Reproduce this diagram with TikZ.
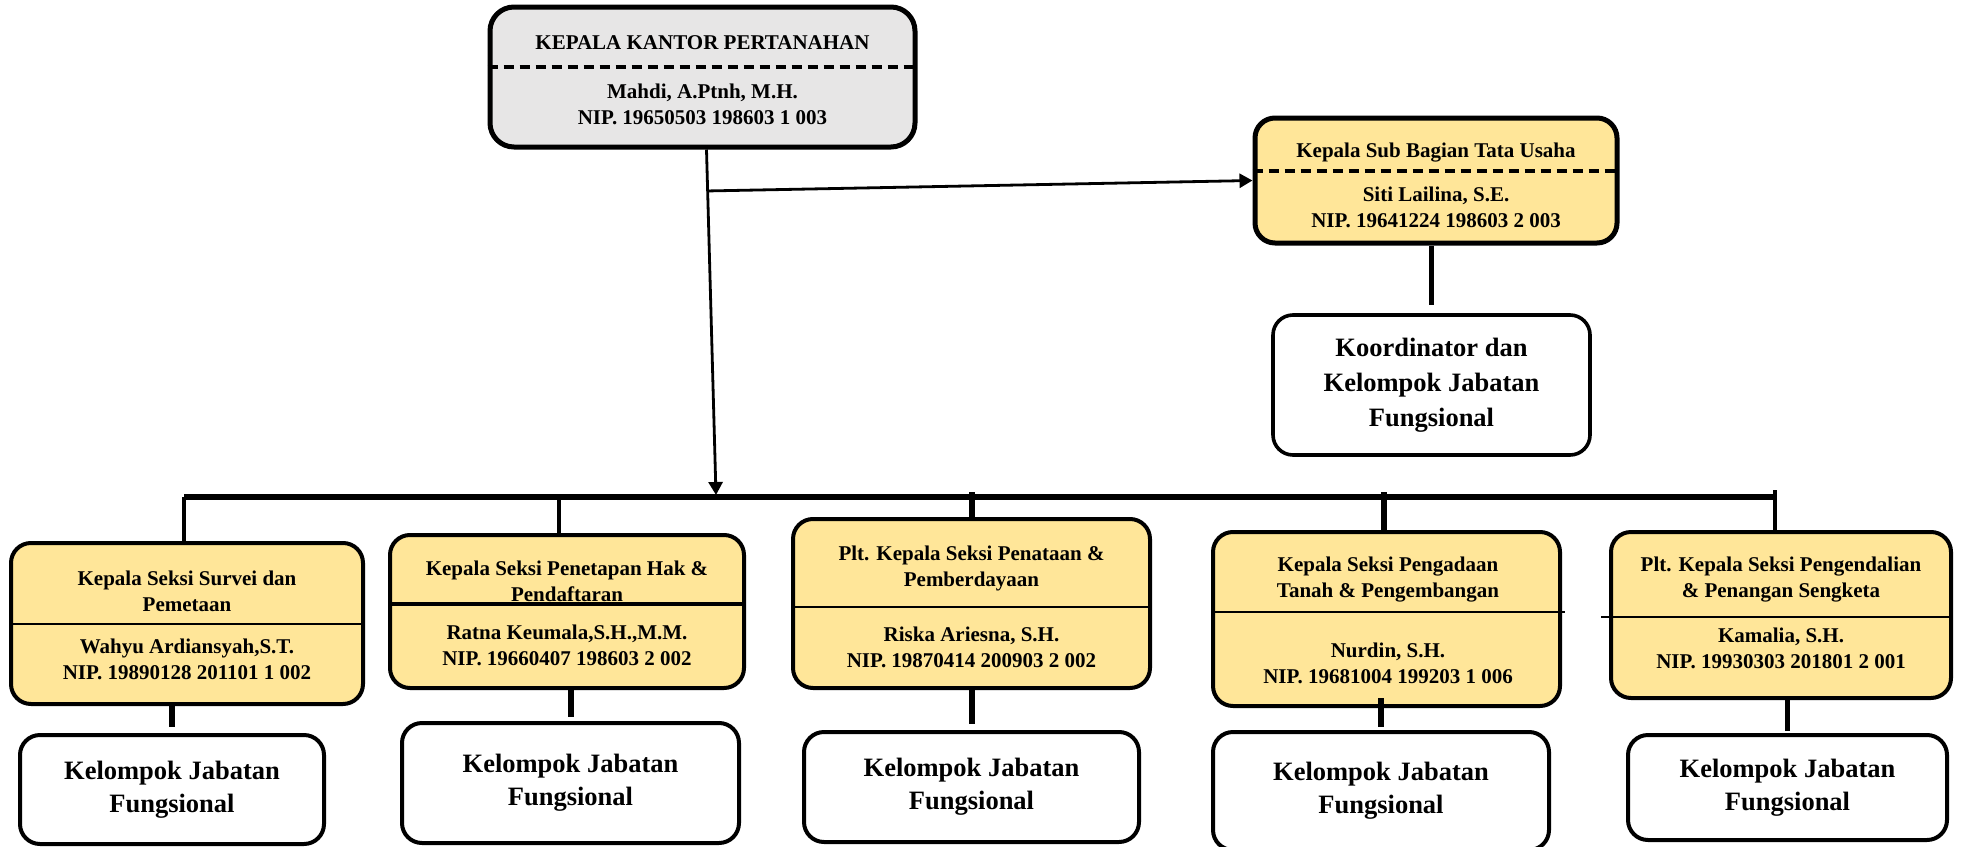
\documentclass[tikz,border=0pt]{standalone}
\usepackage{fontspec}
\setmainfont{Liberation Serif}
\usetikzlibrary{arrows.meta, calc, positioning}
\definecolor{kuning}{RGB}{255,230,153}
\definecolor{abu}{RGB}{231,230,230}

\begin{document}
\begin{tikzpicture}[x=0.5pt, y=-0.5pt]

% TikZ styles
\tikzset{
  kepalabox/.style={rectangle, rounded corners=12pt, draw=black, fill=abu, line width=2.5pt},
  seksi/.style={rectangle, rounded corners=10pt, draw=black, fill=kuning, line width=2pt},
  kelompok/.style={rectangle, rounded corners=10pt, draw=black, fill=white, line width=2pt, align=center, font=\bfseries\fontsize{13.25}{16.5}\selectfont},
  txt/.style={align=center, inner sep=0pt, font=\bfseries\fontsize{10.5}{13}\selectfont},
  garis/.style={line width=0.75pt},
  putus/.style={dash pattern=on 5pt off 3pt, line width=1.6pt},
  arrow/.style={-{Triangle[length=6.5pt, width=7pt]}, line width=1.4pt},
  bus/.style={line width=3pt},
  tipis/.style={line width=2pt},
  tebal/.style={line width=3pt}
};

\useasboundingbox (0,0) rectangle (1965,846);

%==========================
% Kepala Kantor
%==========================
\node[kepalabox, minimum width=212.5pt, minimum height=70pt] (kepala) at (702.5,77) {};
\node[txt] (kepalat) at (702.5,43) {KEPALA KANTOR PERTANAHAN};
\node[txt] (kepalan) at (702.5,104.5) {Mahdi, A.Ptnh, M.H.\\NIP. 19650503 198603 1 003};
\draw[putus] (kepala.west |- 0,67) -- (kepala.east |- 0,67);

% --- Sub Bagian Tata Usaha ---
\node[seksi, line width=2.5pt, minimum width=181pt, minimum height=62.5pt] (subbag) at (1436,180.5) {};
\node[txt] (subbagt) at (1436,153) {Kepala Sub Bagian Tata Usaha};
\node[txt] (subbagn) at (1436,207.5) {Siti Lailina, S.E.\\NIP. 19641224 198603 2 003};
\draw[putus] (subbag.west |- 0,171) -- (subbag.east |- 0,171);

\node[kelompok, line width=1.8pt, minimum width=158.5pt, minimum height=70pt, font=\bfseries\fontsize{13.25}{17.5}\selectfont] (koord) at (1431.5,385) {Koordinator dan\\Kelompok Jabatan\\Fungsional};

%==========================
% Seksi
%==========================
\node[seksi, minimum width=176pt, minimum height=80.5pt] (sec1) at (187,623.5) {};
\node[txt] (sec1t) at (187,591.5) {Kepala Seksi Survei dan\\Pemetaan};
\node[txt] (sec1n) at (187,659) {Wahyu Ardiansyah,S.T.\\NIP. 19890128 201101 1 002};
\draw[garis] (sec1.west |- 0,624) -- (sec1.east |- 0,624);

\node[seksi, minimum width=177pt, minimum height=76.5pt] (sec2) at (567,611.5) {};
\node[txt] (sec2t) at (567,581.5) {Kepala Seksi Penetapan Hak \&\\Pendaftaran};
\node[txt] (sec2n) at (567,645) {Ratna Keumala,S.H.,M.M.\\NIP. 19660407 198603 2 002};
\draw[line width=2pt] (sec2.west |- 0,604) -- (sec2.east |- 0,604);

\node[seksi, minimum width=178.5pt, minimum height=84.5pt] (sec3) at (971.5,603.5) {};
\node[txt] (sec3t) at (971.5,568) {Plt. Kepala Seksi Penataan \&\\Pemberdayaan};
\node[txt] (sec3n) at (971.5,647) {Riska Ariesna, S.H.\\NIP. 19870414 200903 2 002};
\draw[garis] (sec3.west |- 0,607) -- (sec3.east |- 0,607);

\node[seksi, minimum width=173.5pt, minimum height=87pt] (sec4) at (1386.5,619) {};
\node[txt] (sec4t) at (1388,580) {Kepala Seksi Pengadaan\\Tanah \& Pengembangan};
\node[txt] (sec4n) at (1388,663.5) {Nurdin, S.H.\\NIP. 19681004 199203 1 006};
\draw[garis] (sec4.west |- 0,612) -- ($(sec4.east |- 0,612)+(3,0)$);

\node[seksi, minimum width=170pt, minimum height=83pt] (sec5) at (1781,615) {};
\node[txt] (sec5t) at (1781,579.5) {Plt. Kepala Seksi Pengendalian\\\& Penangan Sengketa};
\node[txt] (sec5n) at (1781,648) {Kamalia, S.H.\\NIP. 19930303 201801 2 001};
\draw[garis] ($(sec5.west |- 0,617)+(-8,0)$) -- (sec5.east |- 0,617);

% --- Kelompok Jabatan Fungsional ---
\node[kelompok, minimum width=152pt, minimum height=54.5pt] (kjf1) at (172,789.5) {Kelompok Jabatan\\Fungsional};
\node[kelompok, minimum width=168.5pt, minimum height=60pt] (kjf2) at (570.5,783) {Kelompok Jabatan\\Fungsional};
\node[kelompok, minimum width=167.5pt, minimum height=55pt] (kjf3) at (971.5,787) {Kelompok Jabatan\\Fungsional};
\node[kelompok, minimum width=168pt, minimum height=59pt] (kjf4) at (1381,791) {Kelompok Jabatan\\Fungsional};
\node[kelompok, minimum width=159.5pt, minimum height=52.5pt] (kjf5) at (1787.5,787.5) {Kelompok Jabatan\\Fungsional};

%==========================
% Pfeile / Garis
%==========================
\coordinate (atas) at ($(kepala.south)+(4,0)$);
\coordinate (turun) at (716,495);
\coordinate (cabang) at ($(atas)!0.12!(turun)$);
\draw[arrow] (atas) -- (turun);
\draw[arrow] (cabang) -- (subbag.west);
\draw[tebal, line width=2.5pt, shorten >=4pt] (subbag.south -| koord.north) -- (koord.north);

% --- Bus ---
\coordinate (busL) at (184,497);
\coordinate (busR) at (1774,497);
\coordinate (tap2) at (559,497);
\coordinate (tap3) at (972,492);
\coordinate (tap4) at (1384,492);
\coordinate (tap5) at (1775,490);
\draw[bus] (busL) -- (busR);
\draw[tipis] (busL) -- (busL |- sec1.north);
\draw[tipis] (tap2) -- (tap2 |- sec2.north);
\draw[tebal] (tap3) -- (tap3 |- sec3.north);
\draw[tebal] (tap4) -- (tap4 |- sec4.north);
\draw[tipis] (tap5) -- (tap5 |- sec5.north);

% --- ke Kelompok ---
\draw[tebal, shorten >=3pt] (sec1.south -| kjf1.north) -- (kjf1.north);
\draw[tebal, shorten >=2pt] (sec2.south -| kjf2.north) -- (kjf2.north);
\draw[tebal, shorten >=3pt, shorten <=-1.5pt] (sec3.south -| kjf3.north) -- (kjf3.north);
\draw[tebal, shorten >=1.5pt, shorten <=-5pt] (sec4.south -| kjf4.north) -- (kjf4.north);
\draw[tebal, line width=2.5pt, shorten >=1pt] (sec5.south -| kjf5.north) -- (kjf5.north);
\end{tikzpicture}
\end{document}
